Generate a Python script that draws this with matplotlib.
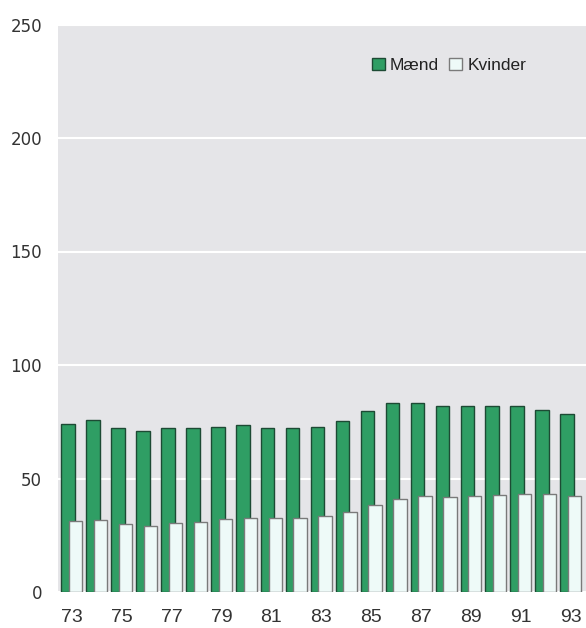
import matplotlib
matplotlib.use("Agg")
import matplotlib.pyplot as plt
from matplotlib.patches import Patch
import numpy as np

# Data
years = list(range(73, 94))
maend = [73.8, 75.6, 72.4, 71.1, 72.4, 72.4, 72.8, 73.7, 72.2, 72.2, 72.8,
         75.5, 79.7, 83.1, 83.4, 82.1, 81.9, 81.9, 81.8, 80.2, 78.4]
kvinder = [31.4, 31.9, 30.1, 29.2, 30.5, 31.0, 32.0, 32.7, 32.7, 32.7, 33.5,
           35.4, 38.3, 41.1, 42.3, 41.7, 42.4, 42.9, 43.3, 43.3, 42.3]
tick_years = [73, 75, 77, 79, 81, 83, 85, 87, 89, 91, 93]
y_ticks = [0, 50, 100, 150, 200, 250]

GREEN = "#2f9e64"
GREEN_EDGE = "#1d4a34"
WHITE = "#eefaf8"
WHITE_EDGE = "#7a7a7a"
BG = "#e5e5e8"

plt.rcParams["font.family"] = ["Liberation Sans", "DejaVu Sans"]

W, H = 586, 628
fig = plt.figure(figsize=(W / 100, H / 100), dpi=100)
ax = fig.add_axes([58 / W, (H - 592) / H, 1 - 58 / W, (592 - 24.5) / H])
ax.set_facecolor(BG)

x = np.array(years, dtype=float)
ax.bar(x - 0.14, maend, width=0.54, color=GREEN, edgecolor=GREEN_EDGE,
       linewidth=1.0, zorder=2)
ax.bar(x + 0.16, kvinder, width=0.54, color=WHITE, edgecolor=WHITE_EDGE,
       linewidth=1.0, zorder=3)

ax.set_ylim(0, 250)
ax.set_xlim(72.45, 93.62)
ax.set_yticks(y_ticks)
ax.set_xticks(tick_years)
ax.set_xticklabels([str(t) for t in tick_years])
ax.yaxis.grid(True, color="white", linewidth=1.5, zorder=1)
ax.set_axisbelow(True)
for s in ax.spines.values():
    s.set_visible(False)
ax.tick_params(axis="both", length=0, colors="#333333")
ax.tick_params(axis="y", pad=11.5, labelsize=12)
ax.tick_params(axis="x", pad=12.5, labelsize=14)
for lab in ax.get_yticklabels():
    lab.set_family(["DejaVu Sans"])

handles = [
    Patch(facecolor=GREEN, edgecolor=GREEN_EDGE, label="Mænd"),
    Patch(facecolor=WHITE, edgecolor=WHITE_EDGE, label="Kvinder"),
]
ax.legend(handles=handles, loc="upper left", ncol=2, frameon=False,
          bbox_to_anchor=((356 - 58) / (W - 58), (592 - 42) / (592 - 24.5)),
          fontsize=12.5, handlelength=0.75, handleheight=0.75,
          handletextpad=0.3, columnspacing=0.6, labelcolor="#222222")

fig.savefig("out.png", dpi=100)
